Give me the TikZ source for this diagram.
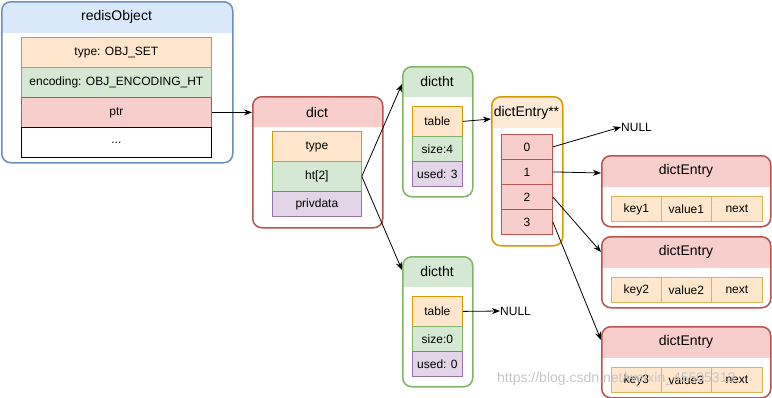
\documentclass[tikz,border=0pt]{standalone}
\usepackage{fontspec}
\setmainfont{Liberation Sans}
\usetikzlibrary{arrows.meta}

\definecolor{blueF}{HTML}{DAE8FC}\definecolor{blueD}{HTML}{6C8EBF}
\definecolor{orgF}{HTML}{FFE6CC}\definecolor{orgD}{HTML}{D79B00}
\definecolor{grnF}{HTML}{D5E8D4}\definecolor{grnD}{HTML}{82B366}
\definecolor{redF}{HTML}{F8CECC}\definecolor{redD}{HTML}{B85450}
\definecolor{purF}{HTML}{E1D5E7}\definecolor{purD}{HTML}{9673A6}
\definecolor{ylwD}{HTML}{D6B656}
\definecolor{hdrO}{HTML}{FDEBD7}

\begin{document}
\begin{tikzpicture}[x=1pt,y=-1pt,
  % rounded container with a filled header band: header fill, border, header height
  container/.style n args={3}{draw=#2, fill=white, line width=1.5pt,
    rounded corners=9pt, inner sep=0pt, anchor=north west,
    path picture={\fill[#1, sharp corners]
      (path picture bounding box.north west) rectangle
      ([yshift=-#3pt]path picture bounding box.north east);}},
  title/.style={font=\fontsize{14}{16}\selectfont, inner sep=0pt},
  cell/.style={draw, line width=0.8pt, anchor=north west, inner sep=0pt,
    font=\fontsize{12}{14}\selectfont},
  cellO/.style={cell, fill=orgF, draw=orgD},
  cellK/.style={cell, fill=orgF, draw=ylwD},
  cellG/.style={cell, fill=grnF, draw=grnD},
  cellR/.style={cell, fill=redF, draw=redD},
  cellP/.style={cell, fill=purF, draw=purD},
  cellW/.style={cell, fill=white, draw=black},
  plain/.style={font=\fontsize{12}{14}\selectfont, inner sep=0pt, anchor=west},
  arr/.style={draw=black, line width=0.8pt, -{Stealth[length=8pt,width=6pt]}}
]
\useasboundingbox (0,0) rectangle (772,397);

% ---------- redisObject ----------
\node[container={blueF}{blueD}{31}, minimum width=231pt, minimum height=161pt] (ro) at (1,1) {};
\node[title] (ro-t) at (116.5,17) {redisObject};
\node[cellO, minimum width=190pt, minimum height=30pt] (ro-type) at (21,37) {type: OBJ\_SET};
\node[cellG, minimum width=190pt, minimum height=30pt] (ro-enc) at (21,67) {encoding: OBJ\_ENCODING\_HT};
\node[cellR, minimum width=190pt, minimum height=30pt] (ro-ptr) at (21,97) {ptr};
\node[cellW, minimum width=190pt, minimum height=30pt] (ro-more) at (21,127) {...};

% ---------- dict ----------
\node[container={redF}{redD}{30}, minimum width=130pt, minimum height=131pt] (dict) at (252,96) {};
\node[title] (dict-t) at (317,112) {dict};
\node[cellO, minimum width=89pt, minimum height=30pt] (dict-type) at (272,131) {type};
\node[cellG, minimum width=89pt, minimum height=30pt] (dict-ht) at (272,161) {ht[2]};
\node[cellP, minimum width=89pt, minimum height=25pt] (dict-priv) at (272,191) {privdata};

% ---------- dictht (ht[0]) ----------
\node[container={grnF}{grnD}{30}, minimum width=70pt, minimum height=130pt] (ht0) at (402,66) {};
\node[title] (ht0-t) at (437,81) {dictht};
\node[cellO, minimum width=50pt, minimum height=30pt] (ht0-table) at (412,106) {table};
\node[cellG, minimum width=50pt, minimum height=25pt] (ht0-size) at (412,136) {size:4};
\node[cellP, minimum width=50pt, minimum height=25pt] (ht0-used) at (412,161) {used: 3};

% ---------- dictht (ht[1]) ----------
\node[container={grnF}{grnD}{30}, minimum width=70pt, minimum height=130pt] (ht1) at (402,256) {};
\node[title] (ht1-t) at (437,271) {dictht};
\node[cellO, minimum width=50pt, minimum height=30pt] (ht1-table) at (412,296) {table};
\node[cellG, minimum width=50pt, minimum height=25pt] (ht1-size) at (412,326) {size:0};
\node[cellP, minimum width=50pt, minimum height=25pt] (ht1-used) at (412,351) {used: 0};

% ---------- dictEntry** bucket array ----------
\node[container={hdrO}{orgD}{31}, minimum width=71pt, minimum height=149pt] (tab) at (491,96) {};
\node[title] (tab-t) at (526.5,113) {dictEntry**};
\node[cellR, minimum width=51pt, minimum height=25pt] (b0) at (501,134) {0};
\node[cellR, minimum width=51pt, minimum height=25pt] (b1) at (501,159) {1};
\node[cellR, minimum width=51pt, minimum height=25pt] (b2) at (501,184) {2};
\node[cellR, minimum width=51pt, minimum height=25pt] (b3) at (501,209) {3};

% ---------- dictEntry nodes ----------
\foreach \i/\top in {1/155, 2/236, 3/326}{
  \node[container={redF}{redD}{31}, minimum width=169pt, minimum height=71pt] (e\i) at (601,\top) {};
  \node[title] (e\i-t) at (686,\top+16) {dictEntry};
  \node[cellK, minimum width=50pt, minimum height=25pt] (e\i-key) at (611,\top+41) {key\i};
  \node[cellK, minimum width=50pt, minimum height=25pt] (e\i-val) at (661,\top+41) {value\i};
  \node[cellK, minimum width=51pt, minimum height=25pt] (e\i-next) at (711,\top+41) {next};
}

% ---------- NULL markers ----------
\node[plain] (null0) at (621,127) {NULL};
\node[plain] (null1) at (500,311) {NULL};

% ---------- pointers ----------
\draw[arr] (ro-ptr.east) -- (ro-ptr.east -| dict.west);
\draw[arr] (dict-ht.east) -- ([yshift=-18pt]ht0.north west);
\draw[arr] (dict-ht.east) -- ([yshift=-14pt]ht1.north west);
\draw[arr] (ht0-table.east) -- ([yshift=-23pt]tab.north west);
\draw[arr] (ht1-table.east) -- (null1.west);
\draw[arr] (b0.east) -- (null0.west);
\draw[arr] (b1.east) -- ([yshift=-18pt]e1.north west);
\draw[arr] (b2.east) -- ([yshift=-16pt]e2.north west);
\draw[arr] (b3.east) -- ([yshift=-14pt]e3.north west);

% ---------- watermark ----------
\node[font=\fontsize{14}{16}\selectfont, text=gray!45, inner sep=0pt, anchor=west] (wm)
  at (497,379) {https://blog.csdn.net/weixin\_45505313};
\end{tikzpicture}
\end{document}
